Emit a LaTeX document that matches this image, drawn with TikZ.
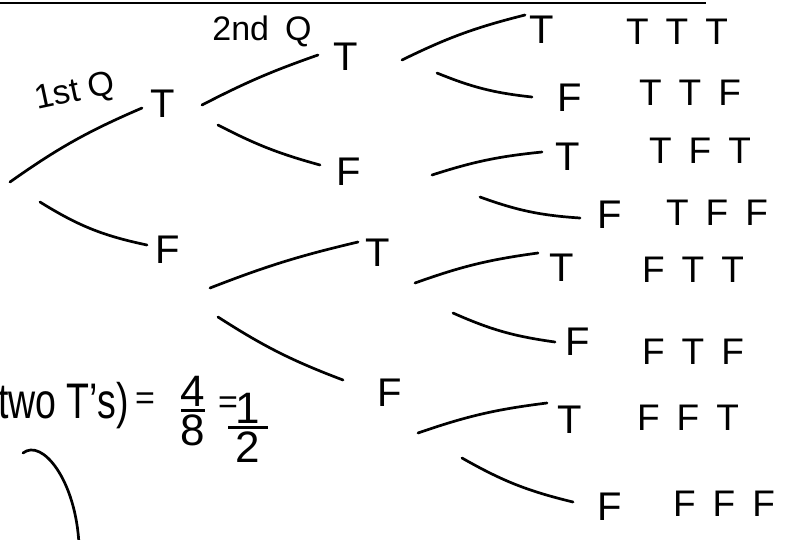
\documentclass[tikz,border=0pt]{standalone}
\usepackage{fontspec}
\usepackage{amsmath}
\setmainfont{Liberation Sans}
\newcommand{\gapT}{\hspace{17pt}}
\begin{document}
\begin{tikzpicture}[x=1pt,y=-1pt,
  branch/.style={line width=2.7pt,line cap=round},
  lvl/.style={inner sep=0pt,font=\fontsize{40}{42}\selectfont},
  combo/.style={inner sep=0pt,font=\fontsize{37}{40}\selectfont},
  lbl/.style={inner sep=0pt,font=\fontsize{34}{36}\selectfont},
  frm/.style={inner sep=0pt,font=\fontsize{44}{48}\selectfont},
  eqs/.style={inner sep=0pt,font=\fontsize{34}{36}\selectfont}]
\fill[white] (0,0) rectangle (795,539);
\useasboundingbox (0,0) rectangle (795,539);
\draw[line width=2pt] (0,3) -- (706,3);

\coordinate (root) at (10,182);
\node[lvl] (t) at (163,104) {T};
\node[lvl] (f) at (168,250) {F};
\node[lvl] (tt) at (346,57) {T};
\node[lvl] (tf) at (349,172) {F};
\node[lvl] (ft) at (378,253) {T};
\node[lvl] (ff) at (390,393) {F};

\node[lvl] (ttt) at (542,30) {T};
\node[lvl] (ttf) at (570,98) {F};
\node[lvl] (tft) at (568,157) {T};
\node[lvl] (tff) at (610,215) {F};
\node[lvl] (ftt) at (562,268) {T};
\node[lvl] (ftf) at (578,342) {F};
\node[lvl] (fft) at (570,420) {T};
\node[lvl] (fff) at (610,507) {F};

\node[combo] (c1) at (677,32) {T\gapT T\gapT T};
\node[combo] (c2) at (690,93) {T\gapT T\gapT F};
\node[combo] (c3) at (700,151) {T\gapT F\gapT T};
\node[combo] (c4) at (717,213) {T\gapT F\gapT F};
\node[combo] (c5) at (693,270) {F\gapT T\gapT T};
\node[combo] (c6) at (693,352) {F\gapT T\gapT F};
\node[combo] (c7) at (688,418) {F\gapT F\gapT T};
\node[combo] (c8) at (724,504) {F\gapT F\gapT F};

\node[lbl,rotate=12] (q1) at (75,93) {1st Q};
\node[lbl] (q2) at (262,31) {2nd\hspace{16pt}Q};

\node[inner sep=0pt,font=\fontsize{50}{54}\selectfont,anchor=base east] (pa) at (129,418) {\scalebox{0.75}[1]{two T's)}};
\node[eqs] (eq1) at (145,401) {=};
\node[frm] (fr1) at (193,411) {$\genfrac{}{}{2.6pt}{1}{\mbox{4}}{\mbox{8}}$};
\node[eqs] (eq2) at (228,405) {=};
\node[frm] (fr2) at (248,428) {$\genfrac{}{}{2.6pt}{1}{\mbox{\,1\,}}{\mbox{2}}$};

\draw[branch] (23,453) .. controls (42,438) and (76,480) .. (79,545);

\draw[branch] (root) to[bend left=6] ([shift={(-21,4)}]t.center);
\draw[branch] ([shift={(30,20)}]root) to[bend right=10] ([shift={(-21,-5)}]f.center);
\draw[branch] ([shift={(39,1)}]t.center) to[bend left=4] ([shift={(-28,-2)}]tt.center);
\draw[branch] ([shift={(55,21)}]t.center) to[bend right=6] ([shift={(-29,-7)}]tf.center);
\draw[branch] ([shift={(42,38)}]f.center) to[bend left=4] ([shift={(-20,-11)}]ft.center);
\draw[branch] ([shift={(50,67)}]f.center) to[bend right=6] ([shift={(-47,-13)}]ff.center);
\draw[branch] ([shift={(56,3)}]tt.center) to[bend left=6] ([shift={(-17,-15)}]ttt.center);
\draw[branch] ([shift={(91,16)}]tt.center) to[bend right=8] ([shift={(-38,-1)}]ttf.center);
\draw[branch] ([shift={(83,3)}]tf.center) to[bend left=6] ([shift={(-26,-5)}]tft.center);
\draw[branch] ([shift={(131,25)}]tf.center) to[bend right=8] ([shift={(-30,3)}]tff.center);
\draw[branch] ([shift={(37,30)}]ft.center) to[bend left=6] ([shift={(-24,-15)}]ftt.center);
\draw[branch] ([shift={(75,60)}]ft.center) to[bend right=8] ([shift={(-23,0)}]ftf.center);
\draw[branch] ([shift={(28,40)}]ff.center) to[bend left=6] ([shift={(-23,-17)}]fft.center);
\draw[branch] ([shift={(72,65)}]ff.center) to[bend right=8] ([shift={(-37,-5)}]fff.center);
\end{tikzpicture}
\end{document}
